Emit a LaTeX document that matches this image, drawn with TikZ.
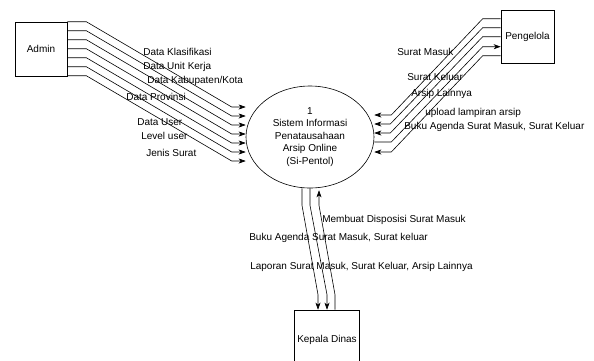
\documentclass[tikz,border=0pt]{standalone}
\usepackage{fontspec}
\setmainfont{Liberation Sans}
\usepackage{tikz}
\usetikzlibrary{arrows,arrows.meta,shapes,shapes.geometric,positioning,calc}

\begin{document}
\begin{tikzpicture}[->,>={Stealth[length=7pt,width=5pt,inset=2pt]},
semithick,x=1pt,y=-1pt,
font=\fontsize{10}{12.5}\selectfont]

\tikzstyle{entity}=[rectangle, draw, text centered, inner sep=1pt, fill=white, text=black]
\tikzstyle{process}=[ellipse, draw, inner sep=0pt, align=center,
minimum width=128pt, minimum height=102pt]
\tikzstyle{flow}=[anchor=west, inner sep=0pt, text=black]

\useasboundingbox (0,0) rectangle (594,360);

%external entities
\node[entity, minimum width=52pt, minimum height=54pt] (admin) at (41,49) {Admin};
\node[entity, minimum width=53pt, minimum height=53pt] (peng) at (527.5,36.5) {Pengelola};
\node[entity, minimum width=65pt, minimum height=60pt] (kep) at (327,340) {Kepala Dinas};

%process
\node[process] (sis) at (310,137)
{1\\Sistem Informasi\\Penatausahaan\\Arsip Online\\(Si-Pentol)};

%admin flows
\draw (admin.north east) -- ++(19,0) -- ($(sis.west)+(-14,-30)$) -- ($(sis.west)+(0,-30)$);
\draw ($(admin.north east)+(0,9)$) -- ++(19,0) -- ($(sis.west)+(-14,-21)$) -- ($(sis.west)+(0,-21)$);
\draw ($(admin.north east)+(0,18)$) -- ++(19,0) -- ($(sis.west)+(-14,-12)$) -- ($(sis.west)+(0,-12)$);
\draw ($(admin.north east)+(0,27)$) -- ++(19,0) -- ($(sis.west)+(-14,-3)$) -- ($(sis.west)+(0,-3)$);
\draw ($(admin.north east)+(0,36)$) -- ++(19,0) -- ($(sis.west)+(-14,6)$) -- ($(sis.west)+(0,6)$);
\draw ($(admin.north east)+(0,45)$) -- ++(19,0) -- ($(sis.west)+(-14,15)$) -- ($(sis.west)+(0,15)$);
\draw ($(admin.north east)+(0,54)$) -- ++(19,0) -- ($(sis.west)+(-14,24)$) -- ($(sis.west)+(0,24)$);

%pengelola flows
\draw ($(peng.north west)+(0,9)$) -- ++(-18,0) -- ($(sis.east)+(17,-22)$) -- ($(sis.east)+(0,-22)$);
\draw ($(peng.north west)+(0,18)$) -- ++(-18,0) -- ($(sis.east)+(16,-13)$) -- ($(sis.east)+(0,-13)$);
\draw ($(peng.north west)+(0,27)$) -- ++(-18,0) -- ($(sis.east)+(16,-4)$) -- ($(sis.east)+(0,-4)$);
\draw[<-] ($(peng.north west)+(0,37)$) -- ++(-18,0) -- ($(sis.east)+(17,5)$) -- ($(sis.east)+(0,5)$);
\draw ($(peng.north west)+(0,46)$) -- ++(-18,0) -- ($(sis.east)+(17,15)$) -- ($(sis.east)+(0,15)$);

%kepala dinas flows
\draw ($(sis.south)+(-8,0)$) -- ++(0,17) -- ($(kep.north)+(-9,-15)$) -- ($(kep.north)+(-9,0)$);
\draw (sis.south) -- ++(0,17) -- ($(kep.north)+(0,-15)$) -- (kep.north);
\draw ($(kep.north)+(8,0)$) -- ++(0,-15) -- ($(sis.south)+(9,17)$) -- ($(sis.south)+(9,2)$);

%labels
\node[flow] (lklas) at (143,52) {Data Klasifikasi};
\node[flow] (lunit) at (143,67) {Data Unit Kerja};
\node[flow] (lkab) at (147,81) {Data Kabupaten/Kota};
\node[flow] (lprov) at (126,97) {Data Provinsi};
\node[flow] (luser) at (137,122) {Data User};
\node[flow] (llevel) at (141,136) {Level user};
\node[flow] (ljenis) at (146,153) {Jenis Surat};

\node[flow] (lmasuk) at (397,52) {Surat Masuk};
\node[flow] (lkeluar) at (407,77) {Surat Keluar};
\node[flow] (larsip) at (411,94) {Arsip Lainnya};
\node[flow] (lupload) at (425,113) {upload lampiran arsip};
\node[flow] (lbuku) at (404,127) {Buku Agenda Surat Masuk, Surat Keluar};

\node[flow] (ldispo) at (322,220) {Membuat Disposisi Surat Masuk};
\node[flow] (lagenda) at (249,238) {Buku Agenda Surat Masuk, Surat keluar};
\node[flow] (llapor) at (250,267) {Laporan Surat Masuk, Surat Keluar, Arsip Lainnya};

\end{tikzpicture}
\end{document}
